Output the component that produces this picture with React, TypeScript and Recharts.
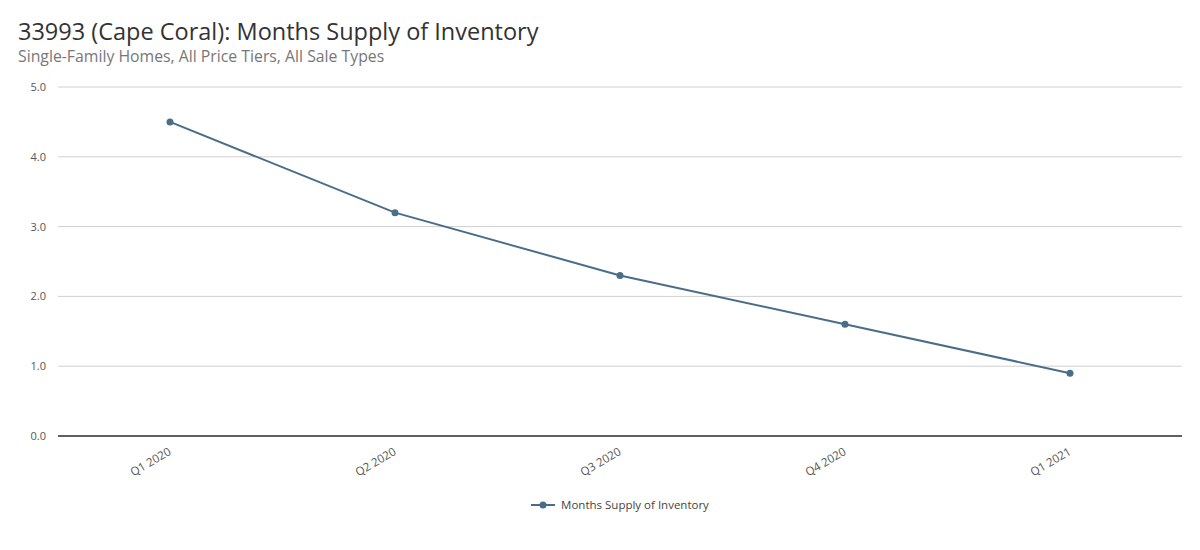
import React from 'react'
import { LineChart, Line, XAxis, YAxis, CartesianGrid, Legend } from 'recharts'

const quarters = ['Q1 2020', 'Q2 2020', 'Q3 2020', 'Q4 2020', 'Q1 2021']
const monthsSupply = [4.5, 3.2, 2.3, 1.6, 0.9]
const yTicks = [0, 1, 2, 3, 4, 5]

const lineColor = '#4a6d88'
const font = '"Open Sans", "Noto Sans", sans-serif'

const chartData = quarters.map((q, i) => ({ quarter: q, value: monthsSupply[i] }))

function QuarterTick(props: any) {
  const { x, y, payload } = props
  return (
    <g transform={`translate(${x + 2},${y + 10})`}>
      <text
        textAnchor="end"
        transform="rotate(-30)"
        fontSize={11.5}
        fill="#555"
        fontFamily={font}
      >
        {payload.value}
      </text>
    </g>
  )
}

function LegendBox() {
  return (
    <div style={{ display: 'flex', justifyContent: 'center', alignItems: 'center', fontFamily: font, fontSize: 11.5, color: '#444' }}>
      <svg width={26} height={10} style={{ marginRight: 4 }}>
        <line x1={0} y1={5} x2={24} y2={5} stroke={lineColor} strokeWidth={2} />
        <circle cx={12} cy={5} r={3.5} fill={lineColor} />
      </svg>
      <span>Months Supply of Inventory</span>
    </div>
  )
}

export default function App() {
  return (
    <div style={{ position: 'fixed', top: 0, left: 0, width: 1200, height: 550, background: '#fff', fontFamily: font }}>
      <div style={{ position: 'absolute', left: 18, top: 15, fontSize: 23.5, color: '#333', whiteSpace: 'nowrap' }}>
        33993 (Cape Coral): Months Supply of Inventory
      </div>
      <div style={{ position: 'absolute', left: 18, top: 45, fontSize: 15.8, color: '#777', whiteSpace: 'nowrap' }}>
        Single-Family Homes, All Price Tiers, All Sale Types
      </div>
      <div style={{ position: 'absolute', left: 0, top: 0 }}>
        <LineChart
          width={1200}
          height={550}
          data={chartData}
          margin={{ top: 87, right: 18, left: 0, bottom: 39 }}
        >
          <CartesianGrid vertical={false} stroke="#d0d0d0" />
          <XAxis
            dataKey="quarter"
            axisLine={{ stroke: '#333', strokeWidth: 1.5 }}
            tickLine={false}
            tick={<QuarterTick />}
            interval={0}
            height={60}
            padding={{ left: 112, right: 112 }}
          />
          <YAxis
            domain={[0, 5]}
            ticks={yTicks}
            width={58}
            axisLine={false}
            tickLine={false}
            tickSize={6}
            tickMargin={6}
            tickFormatter={(v: number) => v.toFixed(1)}
            tick={{ fontSize: 11, fill: '#555', fontFamily: font }}
          />
          <Legend
            content={<LegendBox />}
            wrapperStyle={{ top: 497, left: 40, width: 1160 }}
          />
          <Line
            type="linear"
            dataKey="value"
            name="Months Supply of Inventory"
            stroke={lineColor}
            strokeWidth={2}
            dot={{ r: 3.5, fill: lineColor, stroke: lineColor, strokeWidth: 0 }}
            activeDot={false}
            isAnimationActive={false}
          />
        </LineChart>
      </div>
    </div>
  )
}
